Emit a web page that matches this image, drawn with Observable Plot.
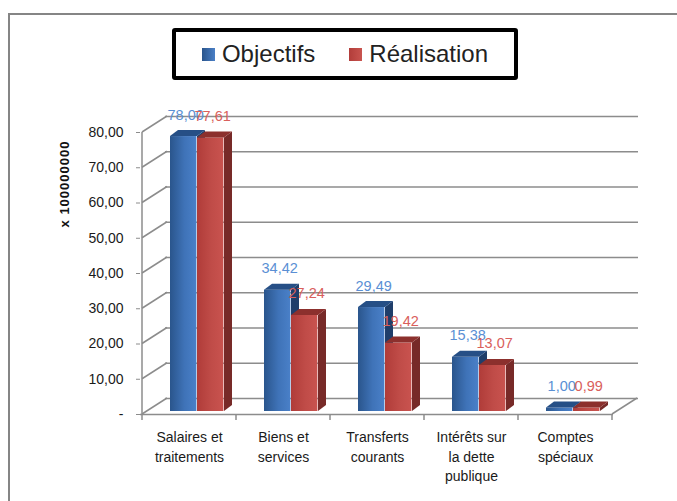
<!DOCTYPE html>
<html><head><meta charset="utf-8">
<script src="https://cdn.jsdelivr.net/npm/d3@7"></script>
<script src="https://cdn.jsdelivr.net/npm/@observablehq/plot@0.6"></script>
<style>
html,body{margin:0;padding:0;background:#fff;overflow:hidden;}
body{width:677px;height:501px;position:relative;font-family:"Liberation Sans",Arial,sans-serif;}
#frame{position:absolute;left:8px;top:13px;width:720px;height:540px;border:2px solid #858585;box-sizing:border-box;}
#legend{position:absolute;left:172px;top:28px;width:346px;height:52px;border:4px solid #000;border-radius:3px;box-sizing:border-box;display:flex;align-items:center;justify-content:center;gap:34px;font-size:24px;color:#222;}
#legend .it{display:flex;align-items:center;gap:7px;}
#legend .sw{width:13px;height:13px;display:inline-block;}
#ylabel{position:absolute;left:64px;top:184px;transform:translate(-50%,-50%) rotate(-90deg);font-weight:bold;font-size:13px;letter-spacing:1px;white-space:nowrap;color:#111;}
#chart{position:absolute;left:0;top:95px;}
</style>
</head><body>
<div id="frame"></div>
<div id="legend"></div>
<div id="ylabel">x 100000000</div>
<div id="chart"></div>
<script>
const categories = ["Salaires et traitements","Biens et services","Transferts courants","Intérêts sur la dette publique","Comptes spéciaux"];
const categoryLabels = ["Salaires et\ntraitements","Biens et\nservices","Transferts\ncourants","Intérêts sur\nla dette\npublique","Comptes\nspéciaux"];
const seriesNames = ["Objectifs","Réalisation"];
const objectifs = [78.00, 34.42, 29.49, 15.38, 1.00];
const realisation = [77.61, 27.24, 19.42, 13.07, 0.99];
const yTicks = [0,10,20,30,40,50,60,70,80];
const yUnitLabel = "x 100000000";

const W = 677, H = 406, ML = 140, MR = 64, MT = 37, MB = 87;
const BW = (W - ML - MR) / categories.length;
const WALL_DX = 25, WALL_DY = -16;
const BAR_DX = 8, BAR_DY = -6, BASE_SHIFT = -3;
const BAR_W = 27, BAR_OFF = 28;
const GRID = "#8c8c8c";

const fmt = v => v === 0 ? "-" : v.toFixed(2).replace(".", ",");
const objRows = categories.map((c, i) => ({cat: c, value: objectifs[i]}));
const realRows = categories.map((c, i) => ({cat: c, value: realisation[i]}));

const sw = [
  "linear-gradient(to right,#2a558c,#4a7fc6)",
  "linear-gradient(to right,#b23d3a,#c9544f)"
];
document.getElementById("legend").innerHTML = seriesNames.map((s, i) =>
  `<span class="it"><span class="sw" style="background:${sw[i]}"></span><span>${s}</span></span>`).join("");
document.getElementById("ylabel").textContent = yUnitLabel;

function defs() {
  const d = d3.create("svg:defs");
  const mk = (id, stops) => {
    const g = d.append("linearGradient").attr("id", id).attr("x1", 0).attr("x2", 1).attr("y1", 0).attr("y2", 0);
    stops.forEach(([o, c]) => g.append("stop").attr("offset", o).attr("stop-color", c));
  };
  mk("gBlue", [[0, "#2a558c"], [0.55, "#3f73b8"], [1, "#4a80c8"]]);
  mk("gRed", [[0, "#b03c39"], [0.55, "#c04c48"], [1, "#c9534f"]]);
  return d.node();
}

function walls(index, scales) {
  const {x, y} = scales;
  const g = d3.create("svg:g").attr("fill", "none").attr("stroke", GRID).attr("stroke-width", 1.5);
  const x0 = x(categories[0]);
  const bw = x(categories[1]) - x(categories[0]);
  const x1 = x(categories[categories.length - 1]) + bw;
  for (const t of yTicks)
    g.append("line").attr("x1", x0).attr("y1", y(t)).attr("x2", x0 + WALL_DX).attr("y2", y(t) + WALL_DY);
  g.append("line").attr("x1", x1).attr("y1", y(0)).attr("x2", x1 + WALL_DX).attr("y2", y(0) + WALL_DY);
  g.append("line").attr("x1", x0).attr("y1", y(0)).attr("x2", x0).attr("y2", y(yTicks[yTicks.length - 1]));
  const bounds = [x0, ...categories.map(c => x(c) + bw)];
  for (const b of bounds)
    g.append("line").attr("x1", b).attr("y1", y(0)).attr("x2", b).attr("y2", y(0) + 6);
  return g.node();
}

function faces(rows, seriesIndex, topColor, sideColor) {
  return (index, scales) => {
    const {x, y} = scales;
    const g = d3.create("svg:g");
    for (const r of rows) {
      const xl = x(r.cat) + BAR_OFF + seriesIndex * BAR_W;
      const xr = xl + BAR_W;
      const top = y(r.value) + BASE_SHIFT;
      const base = y(0) + BASE_SHIFT;
      g.append("polygon").attr("fill", sideColor)
        .attr("points", [[xr, top], [xr + BAR_DX, top + BAR_DY], [xr + BAR_DX, base + BAR_DY], [xr, base]].join(" "));
      g.append("polygon").attr("fill", topColor)
        .attr("points", [[xl, top], [xr, top], [xr + BAR_DX, top + BAR_DY], [xl + BAR_DX, top + BAR_DY]].join(" "));
    }
    return g.node();
  };
}

const chart = Plot.plot({
  width: W, height: H,
  marginLeft: ML, marginRight: MR, marginTop: MT, marginBottom: MB,
  style: {fontFamily: '"Liberation Sans", Arial, sans-serif', color: "#1a1a1a", background: "transparent", overflow: "visible"},
  x: {type: "band", domain: categories, paddingInner: 0, paddingOuter: 0},
  y: {domain: [0, 80]},
  marks: [
    defs,
    Plot.ruleY(yTicks, {dx: WALL_DX, dy: WALL_DY, stroke: GRID, strokeWidth: 1.5}),
    walls,
    Plot.ruleY([0], {stroke: GRID, strokeWidth: 1.5}),
    Plot.axisY(yTicks, {tickSize: 4, tickPadding: 13, tickFormat: fmt, fontSize: 14, stroke: GRID, label: null}),
    Plot.axisX({tickSize: 0, tickPadding: 14, fontSize: 14, lineHeight: 1.39,
      tickFormat: d => categoryLabels[categories.indexOf(d)], label: null}),
    Plot.barY(objRows, {x: "cat", y: "value", fill: "url(#gBlue)", insetLeft: BAR_OFF, insetRight: BW - BAR_OFF - BAR_W, dy: BASE_SHIFT}),
    faces(objRows, 0, "#264f86", "#1f3e6a"),
    Plot.barY(realRows, {x: "cat", y: "value", fill: "url(#gRed)", insetLeft: BAR_OFF + BAR_W, insetRight: BW - BAR_OFF - 2 * BAR_W, dy: BASE_SHIFT}),
    faces(realRows, 1, "#8c302d", "#772a28"),
    Plot.text(objRows, {x: "cat", y: "value", text: d => fmt(d.value), lineAnchor: "bottom",
      dx: BAR_OFF + BAR_W / 2 + 2 - BW / 2, dy: -20, fill: "#5a8fd4", fontSize: 14.5}),
    Plot.text(realRows, {x: "cat", y: "value", text: d => fmt(d.value), lineAnchor: "bottom",
      dx: BAR_OFF + 1.5 * BAR_W + 2 - BW / 2, dy: -20, fill: "#d9605b", fontSize: 14.5})
  ]
});
document.getElementById("chart").appendChild(chart);
</script>
</body></html>
